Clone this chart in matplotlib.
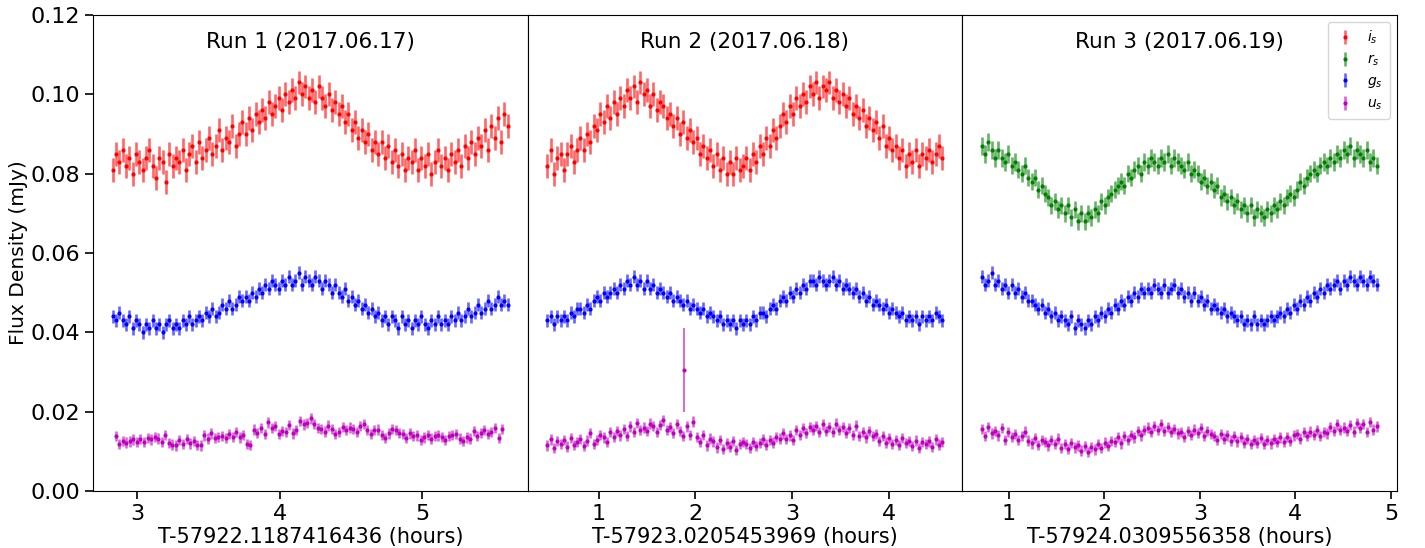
import numpy as np
import matplotlib
matplotlib.use("Agg")
import matplotlib.pyplot as plt
from matplotlib.colors import to_rgba
from matplotlib.ticker import MultipleLocator

# fluxes in microJy (divided by 1000 -> mJy when plotted)
# ---------------- Run 1 ----------------
run1_i_tspan = (2.83, 5.60)
run1_i = [81, 85, 83, 86, 82, 84, 80, 85, 83, 81, 84, 86, 82, 79, 84, 83, 78, 85, 82, 84,
          83, 86, 81, 85, 87, 83, 88, 84, 86, 89, 85, 87, 91, 86, 89, 88, 92, 87, 90, 93,
          90, 94, 91, 95, 93, 96, 94, 98, 95, 97, 99, 96, 100, 98, 101, 99, 103, 100, 102, 99,
          101, 98, 102, 99, 97, 100, 96, 98, 95, 97, 93, 95, 91, 93, 89, 91, 88, 90, 86, 88,
          85, 88, 84, 87, 83, 86, 82, 85, 81, 84, 83, 86, 81, 84, 82, 85, 80, 83, 86, 82,
          84, 81, 85, 83, 86, 82, 87, 84, 88, 85, 89, 87, 91, 86, 92, 89, 94, 88, 95, 92]
run1_g_tspan = (2.83, 5.60)
run1_g = [44, 43, 45, 43, 42, 44, 41, 43, 42, 40, 42, 41, 43, 41, 42, 40, 42, 43, 41, 42,
          41, 43, 42, 44, 42, 43, 44, 43, 45, 44, 46, 44, 45, 47, 46, 48, 46, 47, 49, 48,
          49, 48, 50, 49, 51, 50, 52, 51, 53, 52, 51, 53, 52, 54, 52, 53, 55, 52, 54, 53,
          52, 54, 53, 51, 53, 52, 50, 52, 50, 49, 51, 48, 49, 47, 48, 46, 47, 45, 46, 44,
          45, 43, 44, 42, 44, 43, 41, 44, 42, 43, 41, 43, 42, 44, 42, 41, 43, 42, 44, 42,
          43, 42, 44, 43, 45, 43, 44, 46, 44, 45, 47, 45, 46, 48, 46, 47, 49, 47, 48, 47]
run1_u_tspan = (2.85, 5.56)
run1_u = [13.8, 11.9, 12.6, 12.2, 12.5, 13.0, 12.4, 13.1, 12.3, 13.3,
          13.0, 13.6, 13.2, 12.4, 14.2, 12.1, 11.7, 11.5, 12.9, 11.8,
          13.1, 12.0, 12.6, 11.6, 11.5, 14.0, 13.2, 14.5, 13.3, 13.6,
          13.9, 13.4, 14.4, 13.7, 14.8, 13.5, 14.1, 11.8, 11.6, 15.5,
          14.6, 15.8, 14.4, 17.3, 15.9, 16.4, 14.3, 15.2, 14.8, 16.6,
          14.5, 15.4, 17.6, 16.8, 17.2, 18.3, 16.9, 15.9, 15.6, 15.0,
          16.5, 15.7, 14.3, 14.8, 16.2, 15.4, 16.0, 15.7, 14.9, 16.4,
          16.9, 15.3, 14.4, 15.4, 15.5, 14.2, 13.4, 14.5, 15.6, 15.4,
          14.6, 14.3, 13.3, 14.5, 13.9, 14.0, 12.9, 13.5, 14.1, 13.2,
          13.8, 14.0, 13.7, 12.9, 13.8, 14.1, 14.3, 13.2, 12.6, 13.5,
          13.2, 15.1, 13.9, 14.6, 15.4, 14.3, 14.9, 15.8, 13.4, 15.6]

# ---------------- Run 2 ----------------
run2_tspan = (0.47, 4.55)
run2_i = [82, 86, 80, 84, 85, 81, 85, 87, 83, 86, 89, 86, 90, 88, 92, 91, 95, 93, 97, 94,
          98, 95, 99, 97, 101, 99, 102, 98, 103, 100, 101, 97, 100, 96, 98, 97, 94, 95, 92, 94,
          90, 93, 89, 91, 88, 89, 85, 87, 84, 86, 82, 85, 81, 84, 80, 83, 80, 84, 81, 82,
          84, 81, 85, 83, 87, 85, 89, 87, 91, 89, 92, 95, 93, 97, 95, 99, 97, 100, 98, 102,
          100, 103, 99, 102, 101, 103, 99, 101, 98, 100, 97, 99, 95, 97, 94, 96, 92, 94, 91, 93,
          89, 92, 87, 89, 86, 87, 84, 86, 82, 85, 83, 86, 82, 85, 84, 86, 83, 85, 87, 84]
run2_g = [43, 44, 42, 44, 43, 44, 43, 45, 44, 46, 46, 45, 47, 46, 48, 49, 48, 50, 49, 50,
          51, 50, 52, 51, 53, 52, 54, 52, 53, 51, 53, 51, 52, 50, 51, 50, 49, 50, 48, 49,
          48, 47, 48, 46, 47, 46, 45, 46, 44, 45, 44, 43, 44, 42, 43, 42, 43, 41, 43, 42,
          43, 42, 44, 43, 45, 45, 44, 46, 47, 46, 48, 49, 48, 50, 49, 51, 50, 52, 51, 53,
          53, 52, 54, 53, 52, 53, 54, 52, 53, 51, 52, 51, 50, 51, 49, 50, 48, 49, 47, 48,
          47, 46, 47, 45, 46, 45, 44, 45, 43, 44, 43, 44, 42, 44, 43, 44, 43, 45, 44, 43]
run2_u = [11.5, 13.0, 10.8, 12.6, 11.9, 12.8, 11.2, 13.4, 11.6, 12.3,
          13.1, 11.4, 12.7, 14.6, 11.8, 12.9, 14.2, 13.5, 12.4, 14.8,
          13.6, 15.1, 14.0, 15.7, 13.8, 16.3, 14.9, 17.2, 15.3, 16.0,
          15.2, 17.0, 16.4, 14.8, 16.7, 17.8, 15.4, 16.1, 14.6, 16.9,
          15.1, 13.9, 16.3, 14.2, 17.5, 13.6, 12.4, 14.1, 11.5, 13.2,
          12.5, 11.0, 12.8, 10.6, 12.0, 11.2, 12.6, 10.4, 11.9, 12.3,
          11.8, 10.9, 12.4, 11.3, 12.1, 13.0, 11.7, 12.9, 12.2, 13.6,
          13.2, 14.5, 13.1, 14.0, 12.8, 15.4, 14.2, 15.8, 14.6, 16.1,
          15.5, 16.4, 14.9, 16.8, 15.2, 16.2, 14.8, 17.0, 15.3, 16.1,
          14.6, 15.8, 14.2, 16.5, 13.9, 14.8, 13.5, 15.2, 13.9, 14.3,
          12.6, 13.9, 12.2, 13.4, 11.9, 12.8, 11.6, 13.3, 12.1, 12.6,
          11.4, 12.7, 10.9, 12.3, 11.8, 12.5, 11.1, 13.0, 11.7, 12.4]
run2_u_outlier_t = 1.88
run2_u_outlier_flux = 30.5
run2_u_outlier_err = 10.5

# ---------------- Run 3 ----------------
run3_tspan = (0.72, 4.85)
run3_r = [87, 85, 88, 86, 84, 86, 84, 83, 85, 82, 83, 81, 80, 82, 79, 78, 79, 76, 77, 75,
          74, 72, 73, 71, 72, 70, 72, 69, 71, 68, 70, 68, 70, 69, 71, 70, 73, 72, 74, 75,
          76, 77, 78, 77, 80, 79, 81, 82, 80, 83, 82, 84, 83, 82, 84, 83, 85, 82, 84, 83,
          82, 81, 83, 80, 81, 80, 78, 79, 77, 78, 76, 77, 74, 75, 73, 74, 72, 73, 71, 72,
          70, 72, 69, 71, 70, 69, 71, 70, 72, 71, 73, 72, 74, 75, 74, 76, 78, 77, 79, 80,
          81, 80, 82, 83, 82, 84, 83, 85, 84, 86, 85, 87, 84, 86, 85, 84, 86, 83, 84, 82]
run3_g = [54, 52, 53, 55, 52, 53, 51, 52, 50, 52, 50, 51, 49, 50, 48, 48, 47, 46, 47, 45,
          46, 44, 45, 43, 44, 43, 42, 44, 41, 43, 42, 41, 43, 42, 44, 43, 45, 44, 46, 45,
          47, 46, 48, 47, 49, 48, 50, 49, 51, 50, 51, 50, 52, 51, 50, 52, 50, 51, 52, 50,
          51, 49, 50, 48, 50, 48, 49, 47, 48, 46, 47, 46, 45, 46, 44, 45, 44, 43, 44, 42,
          43, 42, 44, 42, 43, 42, 43, 44, 43, 44, 45, 44, 46, 45, 47, 46, 48, 47, 49, 48,
          50, 49, 51, 50, 52, 51, 52, 53, 51, 53, 52, 54, 53, 52, 54, 53, 52, 54, 53, 52]
run3_u = [15.6, 13.8, 16.2, 14.5, 15.1, 14.0, 15.9, 12.8, 14.9, 13.6,
          14.4, 12.9, 13.8, 15.0, 12.7, 12.0, 13.4, 11.6, 12.8, 12.3,
          11.5, 12.9, 11.8, 13.2, 10.9, 11.8, 10.6, 12.1, 11.0, 11.5,
          10.2, 11.4, 9.8, 11.1, 10.5, 11.9, 10.8, 12.2, 11.3, 12.6,
          12.3, 13.6, 12.0, 13.9, 12.8, 14.2, 13.5, 15.1, 14.0, 15.3,
          16.0, 14.9, 16.4, 15.3, 16.8, 15.1, 16.2, 14.8, 15.7, 14.5,
          14.9, 13.6, 15.2, 14.1, 15.5, 14.6, 15.8, 13.9, 15.2, 14.4,
          13.9, 12.8, 14.3, 13.2, 14.0, 12.7, 13.9, 12.5, 13.6, 12.2,
          13.1, 11.8, 12.9, 12.2, 13.4, 11.9, 12.8, 12.0, 13.1, 12.4,
          13.5, 12.3, 13.7, 12.6, 14.0, 14.4, 13.2, 14.8, 13.9, 15.0,
          14.2, 15.3, 13.8, 14.9, 14.5, 16.2, 15.1, 16.8, 15.4, 16.0,
          15.2, 16.6, 15.0, 17.1, 15.8, 16.9, 14.8, 17.4, 15.5, 16.3]

# typical per-band uncertainties (microJy)
err = {"i": 3.0, "r": 2.2, "g": 1.6, "u": 1.3}
colors = {"i": "r", "r": "g", "g": "b", "u": "m"}
labels = {"i": "$i_s$", "r": "$r_s$", "g": "$g_s$", "u": "$u_s$"}

runs = [
    ("Run 1 (2017.06.17)", "T-57922.1187416436 (hours)",
     [("i", run1_i_tspan, run1_i), ("g", run1_g_tspan, run1_g), ("u", run1_u_tspan, run1_u)]),
    ("Run 2 (2017.06.18)", "T-57923.0205453969 (hours)",
     [("i", run2_tspan, run2_i), ("g", run2_tspan, run2_g), ("u", run2_tspan, run2_u)]),
    ("Run 3 (2017.06.19)", "T-57924.0309556358 (hours)",
     [("r", run3_tspan, run3_r), ("g", run3_tspan, run3_g), ("u", run3_tspan, run3_u)]),
]


def plot_band(ax, band, t, flux, yerr, lw=1.9):
    c = colors[band]
    return ax.errorbar(t, np.asarray(flux) / 1000.0, yerr=np.asarray(yerr) / 1000.0,
                       fmt=".", color=c, ms=4, elinewidth=lw,
                       ecolor=to_rgba(c, 0.6), label=labels[band])


fig, axs = plt.subplots(1, 3, figsize=(14.25, 5.48), dpi=100, sharey=True)
fig.subplots_adjust(left=0.0653, right=0.980, top=0.9726, bottom=0.104, wspace=0)

handles = {}
for k, (title, xlabel, series) in enumerate(runs):
    ax = axs[k]
    for band, tspan, flux in series:
        t = np.linspace(tspan[0], tspan[1], len(flux))
        h = plot_band(ax, band, t, flux, np.full(len(flux), err[band]))
        handles.setdefault(band, h)
    if k == 1:
        plot_band(ax, "u", [run2_u_outlier_t], [run2_u_outlier_flux],
                  [run2_u_outlier_err], lw=1.4)
    ax.text(0.5, 0.943, title, transform=ax.transAxes, ha="center", va="center", fontsize=15.5)
    ax.set_xlabel(xlabel, fontsize=15, labelpad=2)
    ax.xaxis.set_major_locator(MultipleLocator(1))
    ax.tick_params(axis="both", labelsize=16, length=6, width=1.2)
    if k > 0:
        ax.tick_params(axis="y", left=False)

axs[0].set_ylim(0, 0.12)
axs[0].set_yticks([0.0, 0.02, 0.04, 0.06, 0.08, 0.10, 0.12])
axs[0].set_ylabel("Flux Density (mJy)", fontsize=14.5, labelpad=1.5)

axs[2].legend([handles[b] for b in ["i", "r", "g", "u"]],
              [labels[b] for b in ["i", "r", "g", "u"]],
              loc="upper right", fontsize=10, handlelength=1.5, borderpad=0.5,
              labelspacing=0.45)

fig.savefig("out.png", dpi=100)
